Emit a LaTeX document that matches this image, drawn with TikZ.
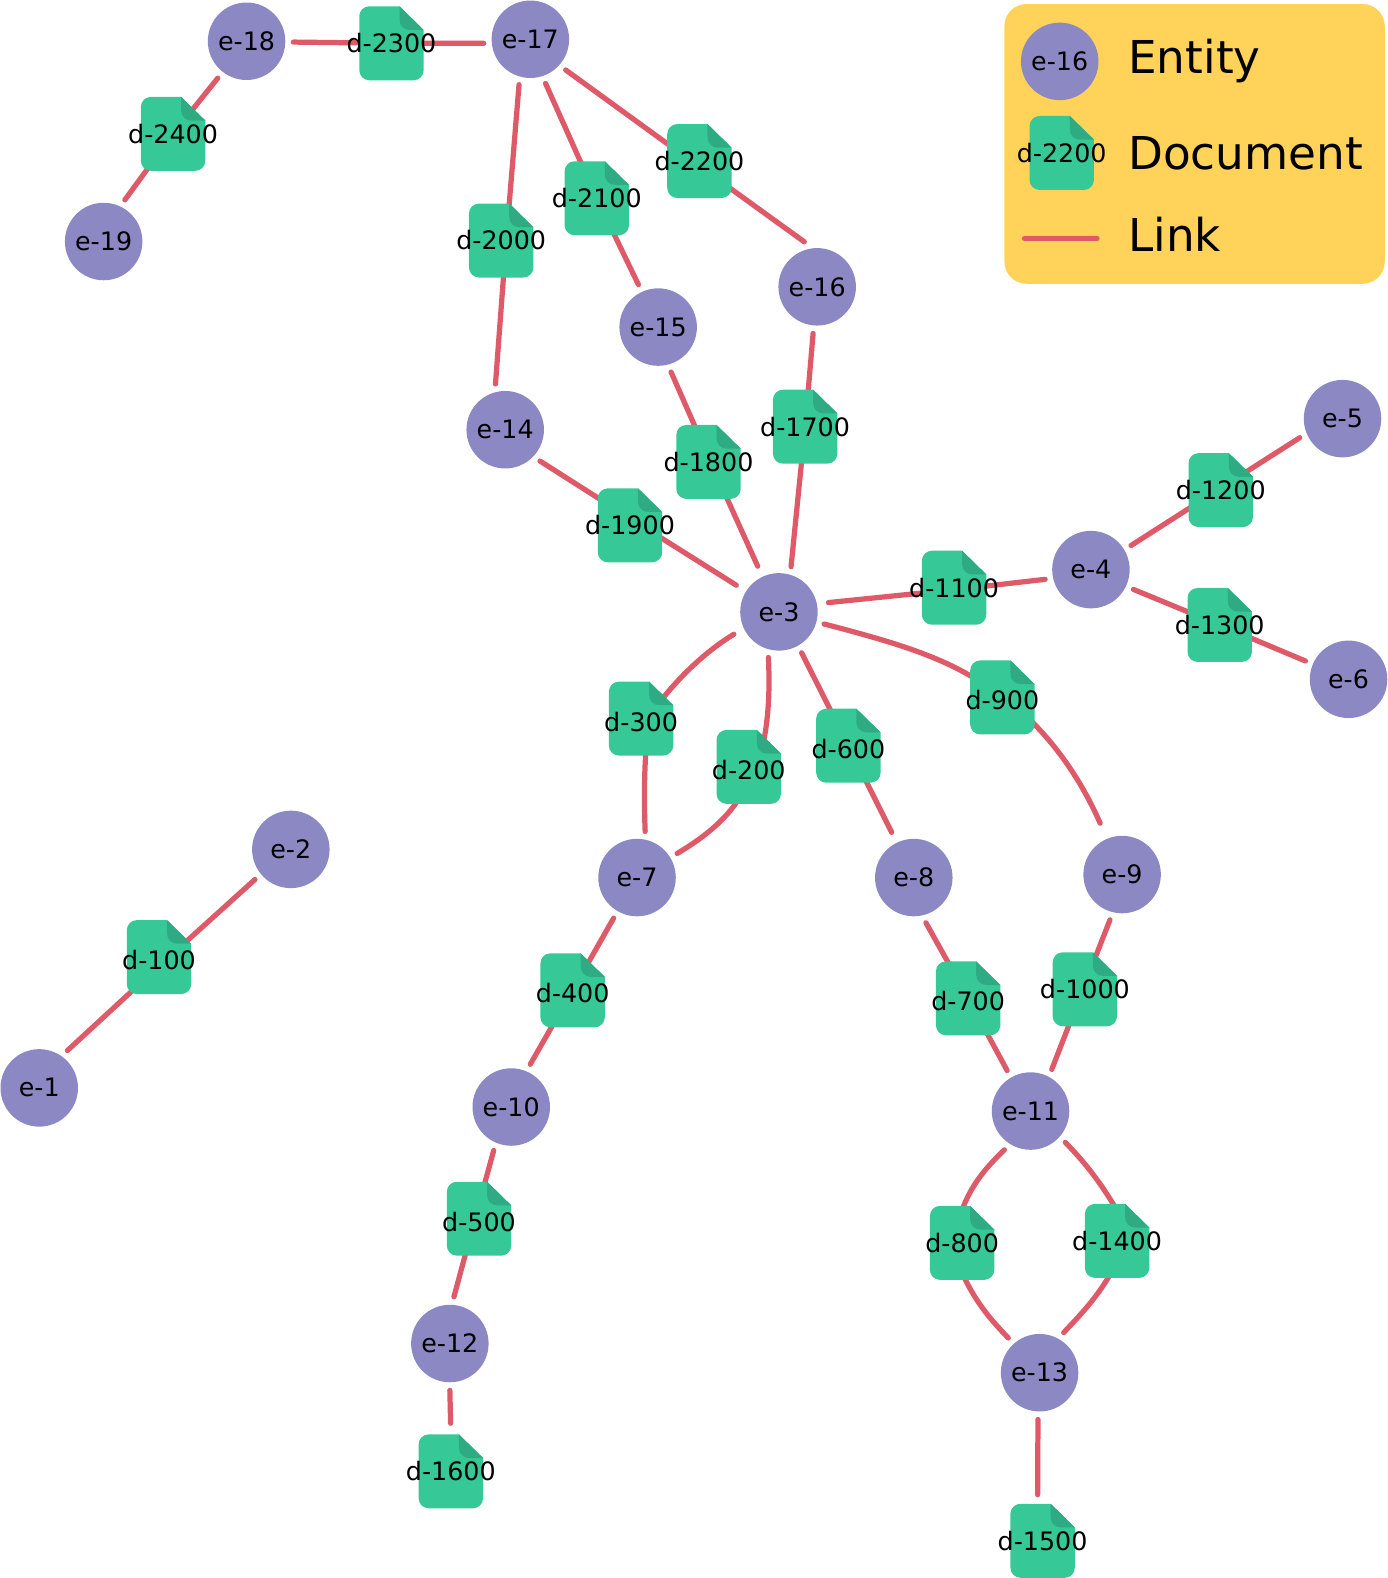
\documentclass[tikz,border=0pt]{standalone}
\usepackage{fontspec}
\setmainfont{DejaVu Sans}
\pgfdeclarelayer{bg}
\pgfsetlayers{bg,main}
\definecolor{entc}{HTML}{8C88C4}
\definecolor{docc}{HTML}{36C896}
\definecolor{foldc}{HTML}{2FAB83}
\definecolor{linkc}{HTML}{DE5A68}
\definecolor{legc}{HTML}{FFD25A}
\tikzset{
  entity/.style={circle,fill=entc,minimum size=77pt,inner sep=0pt,outer sep=8pt,font=\fontsize{25.2}{30}\selectfont},
  docnode/.style={rectangle,minimum width=64pt,minimum height=73.5pt,inner sep=0pt,outer sep=0pt,font=\fontsize{25.2}{30}\selectfont},
  link/.style={draw=linkc,line width=5.2pt,line cap=round},
  legtext/.style={anchor=base west,inner sep=0pt,font=\fontsize{45}{54}\selectfont}
}
\newcommand{\docshape}[1]{%
  \begin{scope}[shift={(#1)},x=1pt,y=1pt,shift={(-32,-36.75)}]
    \fill[docc] (10,0) -- (54,0) arc[start angle=-90,end angle=0,radius=10] -- (64,50) -- (40,73.5) -- (10,73.5) arc[start angle=90,end angle=180,radius=10] -- (0,10) arc[start angle=180,end angle=270,radius=10] -- cycle;
    \fill[foldc] (40,73.5) -- (64,50) -- (50,50) arc[start angle=270,end angle=180,radius=10] -- cycle;
  \end{scope}}
\newcommand{\doc}[3]{\docshape{#2}\node[docnode] (#1) at (#2) {\makebox[0pt]{#3}};}
% document whose label sits a little lower in the icon
\newcommand{\docl}[3]{\docshape{#2}\node[docnode] (#1) at (#2) {\raisebox{-3pt}[\height][\depth]{\makebox[0pt]{#3}}};}
\newcommand{\ent}[3]{\node[entity] (#1) at (#2) {#3};}
% entity anchor, doc name, offset inside the document icon
\newcommand{\lk}[3]{\draw[link] (#1) -- ([shift={(#3)}]#2.center);}
\newcommand{\lks}[3]{\draw[link,shorten <=3.5pt] (#1) -- ([shift={(#3)}]#2.center);}
\begin{document}
\begin{tikzpicture}[x=1pt,y=-1pt]
\path[use as bounding box] (0,0) rectangle (1379,1568);
% legend
\fill[legc,rounded corners=22pt] (998,4) rectangle (1376,282);
\ent{lge}{1053,61}{e-16}
\doc{lgd}{1055,152}{d-2200}
\coordinate (lga) at (1018,237);
\coordinate (lgb) at (1090,237);
\draw[link] (lga) -- (lgb);
\node[legtext] (lgt1) at (1121,73) {Entity};
\node[legtext] (lgt2) at (1121,168) {Document};
\node[legtext] (lgt3) at (1121,250) {Link};
% entities
\ent{e1}{39,1081}{e-1}
\ent{e2}{289,844}{e-2}
\ent{e3}{774,608}{e-3}
\ent{e4}{1084,566}{e-4}
\ent{e5}{1334,416}{e-5}
\ent{e6}{1340,675}{e-6}
\ent{e7}{633,872}{e-7}
\ent{e8}{908,872}{e-8}
\ent{e9}{1115,869}{e-9}
\ent{e10}{508,1100}{e-10}
\ent{e11}{1024,1104}{e-11}
\ent{e12}{447,1335}{e-12}
\ent{e13}{1033,1364}{e-13}
\ent{e14}{502,427}{e-14}
\ent{e15}{654,325}{e-15}
\ent{e16}{812,285}{e-16}
\ent{e17}{527,39}{e-17}
\ent{e18}{245,41}{e-18}
\ent{e19}{103,240}{e-19}
% documents
\docl{d100}{158,951}{d-100}
\docl{d200}{744,762}{d-200}
\docl{d300}{637,714}{d-300}
\docl{d400}{569,984}{d-400}
\docl{d500}{476,1211}{d-500}
\docl{d600}{843,741}{d-600}
\docl{d700}{962,992}{d-700}
\doc{d800}{956,1235}{d-800}
\docl{d900}{996,693}{d-900}
\doc{d1000}{1078,983}{d-1000}
\doc{d1100}{948,584}{d-1100}
\doc{d1200}{1213,487}{d-1200}
\doc{d1300}{1212,621}{d-1300}
\doc{d1400}{1110,1233}{d-1400}
\doc{d1500}{1036,1531}{d-1500}
\doc{d1600}{448,1462}{d-1600}
\doc{d1700}{800,424}{d-1700}
\doc{d1800}{704,459}{d-1800}
\doc{d1900}{626,522}{d-1900}
\doc{d2000}{498,239}{d-2000}
\doc{d2100}{593,197}{d-2100}
\doc{d2200}{695,160}{d-2200}
\doc{d2300}{389,43}{d-2300}
\doc{d2400}{172,133}{d-2400}
% links
\begin{pgfonlayer}{bg}
\lk{e1.53}{d100}{0,9}
\lk{e2.220}{d100}{0,9}
\lk{e18.-1}{d2300}{0,0}
\lk{e17.185}{d2300}{0,0}
\lk{e18.232}{d2400}{0,0}
\lk{e19.63}{d2400}{0,0}
\lk{e17.256}{d2000}{5,0}
\lk{e14.102}{d2000}{5,0}
\lk{e17.-71}{d2100}{0,0}
\lk{e15.115}{d2100}{0,0}
\lk{e17.-41}{d2200}{0,6}
\lk{e16.106}{d2200}{0,5}
\lk{e15.-74}{d1800}{2,0}
\lks{e3.115}{d1800}{2,0}
\lk{e16.-95}{d1700}{0,0}
\lk{e3.75}{d1700}{0,0}
\lk{e14.-42}{d1900}{0,-7}
\lks{e3.148}{d1900}{0,-7}
\lks{e3.11}{d1100}{0,2}
\lk{e4.192}{d1100}{0,2}
\lk{e4.31}{d1200}{0,-2}
\lk{e5.204}{d1200}{0,-2}
\lk{e4.-25}{d1300}{0,0}
\lk{e6.157}{d1300}{0,0}
\lk{e3.-61}{d600}{0,0}
\lks{e8.116}{d600}{0,0}
\lk{e7.-120}{d400}{0,0}
\lk{e10.66}{d400}{0,0}
\lk{e9.255}{d1000}{-2,0}
\lk{e11.63}{d1000}{-2,0}
\lk{e8.-75}{d700}{0,0}
\lk{e11.120}{d700}{0,0}
\lk{e10.248}{d500}{-4,0}
\lk{e12.85}{d500}{-4,0}
\draw[link,shorten >=11pt] (e12.-90) -- (d1600.north);
\draw[link,shorten >=9pt] (e13.-92) -- ([xshift=-5pt]d1500.north);
% curved links
\draw[link,shorten <=3.5pt] (e3.206) .. controls (700,648) and (672,675) .. ([shift={(13,-9)}]d300.center);
\draw[link] ([shift={(5,30)}]d300.center) .. controls (640,770) and (640,800) .. (e7.80);
\draw[link] (e3.257) .. controls (765,685) and (764,715) .. ([shift={(13,-17)}]d200.center);
\draw[link] ([shift={(-6,25)}]d200.center) .. controls (725,812) and (700,832) .. (e7.31);
\draw[link] (e3.-15) .. controls (880,636) and (930,650) .. ([shift={(-26,-18)}]d900.center);
\draw[link,shorten >=9pt] ([shift={(20,15)}]d900.center) .. controls (1045,735) and (1072,770) .. (e9.113);
\draw[link] (e11.236) .. controls (982,1158) and (965,1176) .. ([shift={(-1,-30)}]d800.center);
\draw[link] (e13.132) .. controls (985,1312) and (970,1295) .. ([shift={(0,30)}]d800.center);
\draw[link] (e11.-42) .. controls (1075,1152) and (1092,1172) .. ([shift={(0,-30)}]d1400.center);
\draw[link] (e13.59) .. controls (1072,1308) and (1090,1290) .. ([shift={(-5,30)}]d1400.center);
\end{pgfonlayer}
\end{tikzpicture}
\end{document}
